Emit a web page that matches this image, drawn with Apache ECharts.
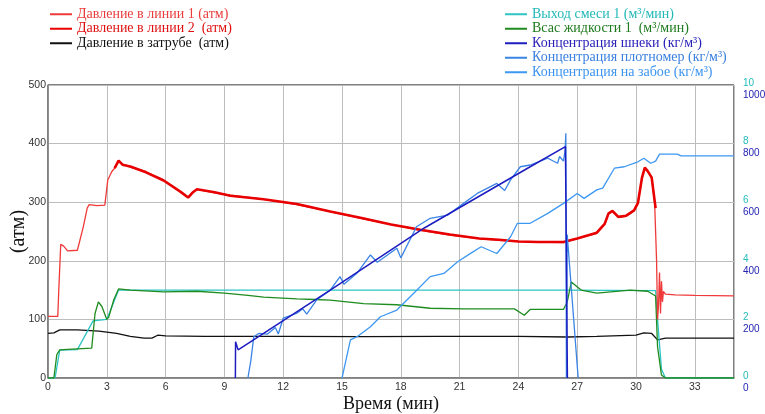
<!DOCTYPE html>
<html>
<head>
<meta charset="utf-8">
<script src="https://cdn.jsdelivr.net/npm/echarts@6/dist/echarts.min.js"></script>
<style>
  html, body { margin: 0; padding: 0; background: #fff; }
  #chart1 { width: 765px; height: 414px; }
</style>
</head>
<body>
<div id="chart1"></div>
<script>
// время, мин / значения
var xTicks = [0, 3, 6, 9, 12, 15, 18, 21, 24, 27, 30, 33];
var leftTicks = [0, 100, 200, 300, 400, 500];
var flowTicks = [0, 2, 4, 6, 8, 10];
var concTicks = [0, 200, 400, 600, 800, 1000];

// давление в линии 1 (атм)
var pressLine1 = [
    [0, 105], [0.5, 105], [0.55, 150], [0.65, 228], [0.8, 225], [1.0, 217], [1.5, 218], [1.6, 220],
    [1.8, 258], [2.0, 290], [2.1, 296], [2.5, 294], [2.9, 295], [3.05, 338], [3.25, 352], [3.45, 360],
    [3.6, 370], [3.8, 365], [4.2, 360], [5.0, 352], [5.9, 338], [6.75, 318], [7.15, 309], [7.4, 318],
    [7.6, 322], [8.5, 316], [9.3, 312], [11.0, 305], [12.7, 296], [14.4, 284], [16, 272], [17.5, 262],
    [19, 252], [20.5, 244], [22, 238], [23, 235], [24, 233], [25, 232], [26.3, 231], [27, 238],
    [28, 247], [28.4, 262], [28.6, 280], [28.8, 284], [29.1, 274], [29.5, 276], [29.9, 285], [30.1, 298],
    [30.3, 340], [30.45, 358], [30.6, 352], [30.8, 343], [30.95, 300], [31.05, 200], [31.1, 100],
    [31.15, 125], [31.2, 180], [31.25, 110], [31.3, 165], [31.35, 130], [31.4, 148], [31.5, 143],
    [32, 142], [33, 141], [35, 140]
];
// давление в линии 2 (атм)
var pressLine2 = [
    [3.4, 358], [3.6, 371], [3.8, 364], [4.2, 361], [5.0, 351], [5.9, 337], [6.75, 318], [7.15, 308],
    [7.4, 317], [7.6, 322], [8.5, 317], [9.3, 311], [11.0, 305], [12.7, 297], [14.4, 284], [16, 273],
    [17.5, 262], [19, 253], [20.5, 245], [22, 238], [23, 236], [24, 233], [25, 232], [26.3, 232],
    [27, 238], [28, 248], [28.4, 263], [28.6, 281], [28.8, 285], [29.1, 275], [29.5, 277], [29.9, 286],
    [30.1, 299], [30.3, 341], [30.45, 359], [30.6, 353], [30.8, 342], [31.0, 290]
];
// давление в затрубе (атм)
var pressAnnulus = [
    [0, 76], [0.3, 77], [0.6, 82], [1.5, 82], [2.6, 80], [3.5, 76], [4.2, 71], [4.9, 68], [5.3, 68],
    [5.6, 73], [6, 72], [8, 71], [12, 71], [16, 70.5], [20, 71], [24, 71], [26.5, 70], [28, 71],
    [30, 73], [30.4, 77], [30.8, 76], [31.1, 65], [31.5, 68], [35, 68]
];
// выход смеси 1 (м³/мин)
var mixOut = [
    [0, 0], [0.36, 0], [0.6, 0.95], [1.5, 0.97], [2.3, 1.95], [3.0, 2.0], [3.6, 3.0], [10, 3.0],
    [20, 3.0], [26.5, 3.0], [31.0, 2.98], [31.1, 2.0], [31.3, 0.3], [31.5, 0], [35, 0]
];
// всас жидкости 1 (м³/мин)
var fluidIn = [
    [0, 0], [0.3, 0], [0.45, 0.8], [0.6, 0.96], [1.0, 0.98], [2.23, 1.02], [2.4, 2.2], [2.57, 2.6],
    [2.75, 2.44], [3.0, 2.0], [3.1, 2.08], [3.35, 2.66], [3.6, 3.04], [4.2, 3.0], [5.9, 2.94],
    [7.6, 2.96], [9.0, 2.9], [10.2, 2.82], [11.0, 2.76], [12.7, 2.7], [13.6, 2.68], [14.4, 2.66],
    [16.1, 2.54], [17.8, 2.5], [19.5, 2.38], [21.2, 2.36], [23.8, 2.36], [24.3, 2.14], [24.6, 2.34],
    [26.3, 2.34], [26.5, 2.62], [26.7, 3.28], [27.2, 3.0], [28.0, 2.9], [29.7, 3.0], [30.6, 2.96],
    [31.0, 2.8], [31.1, 1.06], [31.3, 0.1], [31.5, 0], [35, 0]
];
// концентрация шнеки (кг/м³)
var concAuger = [
    [9.56, 0], [9.57, 124], [9.7, 96], [14.4, 300], [19.2, 512], [24.6, 721], [26.4, 790], [26.5, 0]
];
// концентрация плотномер (кг/м³)
var concDensity = [
    [10.2, 0], [10.35, 60], [10.5, 141], [10.75, 152], [11.2, 150], [11.6, 172], [11.75, 150],
    [12.0, 204], [12.7, 221], [13.0, 236], [13.2, 218], [13.7, 266], [14.4, 300], [14.9, 346],
    [15.1, 320], [15.77, 358], [16.45, 420], [16.8, 395], [17.8, 443], [18.0, 410], [18.8, 516],
    [19.5, 545], [20.4, 556], [21.2, 596], [21.9, 630], [22.9, 664], [23.3, 640], [23.6, 676],
    [24.1, 721], [24.6, 727], [25.5, 750], [26.0, 733], [26.1, 756], [26.3, 740], [26.38, 775],
    [26.42, 835], [26.45, 0], [26.47, 0], [26.49, 490], [27.05, 0]
];
// концентрация на забое (кг/м³)
var concBottom = [
    [15.0, 0], [15.2, 60], [15.43, 130], [15.77, 141], [16.45, 175], [16.96, 209], [17.8, 232],
    [18.66, 289], [19.5, 346], [20.2, 357], [20.9, 397], [21.6, 427], [22.1, 448], [22.9, 425],
    [23.6, 482], [23.95, 528], [24.6, 528], [25.5, 562], [26.3, 596], [27.0, 630], [27.35, 613],
    [28.0, 642], [28.3, 648], [28.9, 716], [29.4, 721], [30.1, 738], [30.4, 750], [30.75, 733],
    [31.0, 740], [31.2, 764], [32.1, 764], [32.3, 758], [35, 758]
];

var serif = 'Liberation Serif';
var sans = 'Liberation Sans';

var myChart = echarts.init(document.getElementById('chart1'));

function line(name, data, color, width, axis) {
    return {
        name: name, type: 'line', data: data, yAxisIndex: axis,
        showSymbol: false, symbol: 'none', animation: false,
        lineStyle: { color: color, width: width }, itemStyle: { color: color }
    };
}

function legendItem(name, color) {
    return { name: name, textStyle: { color: color } };
}

function plain(v) {
    return String(v);
}

var legendBase = {
    orient: 'vertical', top: 7, padding: 0, icon: 'rect', itemWidth: 22, itemHeight: 2, itemGap: 0,
    selectedMode: false,
    textStyle: { fontFamily: serif, fontSize: 14, lineHeight: 14.5 }
};

var option = {
    backgroundColor: '#fff',
    animation: false,
    legend: [
        Object.assign({}, legendBase, {
            left: 50,
            data: [
                legendItem('Давление в линии 1 (атм)', '#ea3c3c'),
                legendItem('Давление в линии 2  (атм)', '#e01010'),
                legendItem('Давление в затрубе  (атм)', '#111')
            ]
        }),
        Object.assign({}, legendBase, {
            left: 505,
            data: [
                legendItem('Выход смеси 1 (м³/мин)', '#22b8b8'),
                legendItem('Всас жидкости 1  (м³/мин)', '#1e7a1e'),
                legendItem('Концентрация шнеки (кг/м³)', '#2a22b8'),
                legendItem('Концентрация плотномер (кг/м³)', '#3a80e0'),
                legendItem('Концентрация на забое (кг/м³)', '#3c94f0')
            ]
        })
    ],
    grid: {
        left: 48, right: 31, top: 85, bottom: 36, outerBoundsMode: 'none', containLabel: false,
        show: true, borderColor: '#000', borderWidth: 1
    },
    xAxis: {
        type: 'value', min: xTicks[0], max: 35, interval: xTicks[1] - xTicks[0],
        name: 'Время (мин)', nameLocation: 'middle', nameGap: 17, nameMoveOverlap: false,
        nameTextStyle: { fontFamily: serif, fontSize: 18, color: '#111' },
        axisLine: { lineStyle: { color: '#808080', width: 1.5 } },
        axisTick: { show: false },
        axisLabel: { color: '#333', fontSize: 10.5, fontFamily: sans, margin: 4, showMaxLabel: false, formatter: plain },
        splitLine: { lineStyle: { color: '#bdbdbd' } }
    },
    yAxis: [
        {
            type: 'value', min: leftTicks[0], max: leftTicks[leftTicks.length - 1], interval: leftTicks[1] - leftTicks[0],
            name: '(атм)', nameLocation: 'middle', nameRotate: 90, nameGap: 19, nameMoveOverlap: false,
            nameTextStyle: { fontFamily: serif, fontSize: 20, color: '#111' },
            axisLine: { show: true, lineStyle: { color: '#808080', width: 1.5 } },
            axisTick: { show: false },
            axisLabel: { color: '#333', fontSize: 10.5, fontFamily: sans, margin: 2, padding: [0, 0, 4, 0], formatter: plain },
            splitLine: { lineStyle: { color: '#bdbdbd' } }
        },
        {
            type: 'value', position: 'right', min: flowTicks[0], max: flowTicks[flowTicks.length - 1], interval: flowTicks[1] - flowTicks[0],
            axisLine: { show: false }, axisTick: { show: false }, splitLine: { show: false },
            axisLabel: { color: '#26bcbc', fontSize: 10, fontFamily: sans, margin: 9, verticalAlign: 'bottom', lineHeight: 4, formatter: plain }
        },
        {
            type: 'value', position: 'right', min: concTicks[0], max: concTicks[concTicks.length - 1], interval: concTicks[1] - concTicks[0],
            axisLine: { show: false }, axisTick: { show: false }, splitLine: { show: false },
            axisLabel: { color: '#2424b4', fontSize: 10, fontFamily: sans, margin: 9, verticalAlign: 'top', lineHeight: 20, formatter: plain }
        }
    ],
    series: [
        line('Давление в затрубе  (атм)', pressAnnulus, '#111', 1.3, 0),
        line('Выход смеси 1 (м³/мин)', mixOut, '#2cc4c4', 1.3, 1),
        line('Всас жидкости 1  (м³/мин)', fluidIn, '#1f8c1f', 1.3, 1),
        line('Давление в линии 1 (атм)', pressLine1, '#f03a3a', 1.3, 0),
        line('Давление в линии 2  (атм)', pressLine2, '#e80000', 2.6, 0),
        line('Концентрация на забое (кг/м³)', concBottom, '#3c98f2', 1.3, 2),
        line('Концентрация плотномер (кг/м³)', concDensity, '#3a84e6', 1.3, 2),
        line('Концентрация шнеки (кг/м³)', concAuger, '#1c1cc0', 1.5, 2)
    ]
};

myChart.setOption(option);
</script>
</body>
</html>
